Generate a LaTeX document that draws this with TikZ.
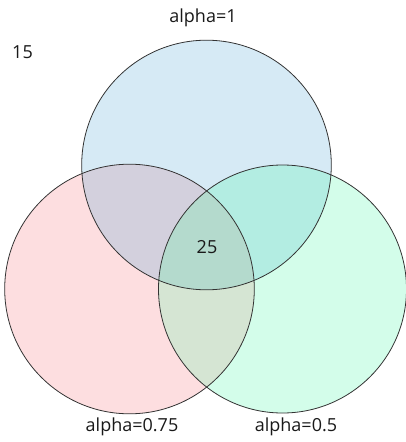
\documentclass[tikz,border=0pt]{standalone}
\usepackage{fontspec}
\setmainfont{Open Sans}
\definecolor{cblue}{HTML}{D6EAF5}
\definecolor{cpink}{HTML}{FDDEE0}
\definecolor{cgreen}{HTML}{D3FDEA}
\definecolor{cbp}{HTML}{D3D0DD}
\definecolor{cbg}{HTML}{B3EDE2}
\definecolor{cpg}{HTML}{D5E5D3}
\definecolor{cbpg}{HTML}{B4DACD}
\definecolor{edge}{HTML}{333333}
\begin{document}
\begin{tikzpicture}[x=1pt,y=-1pt,
  lbl/.style={font=\fontsize{18}{21}\selectfont, text=black!90, inner sep=0pt},
  ring/.style={draw=edge, line width=0.8pt}]
\useasboundingbox (0,0) rectangle (405,442);
\def\A{(206.5,165) circle (124.8)}
\def\B{(129.5,289) circle (124.8)}
\def\C{(282.5,289) circle (124)}
\fill[cblue] \A;
\fill[cpink] \B;
\fill[cgreen] \C;
\begin{scope}\clip \A; \fill[cbp] \B; \end{scope}
\begin{scope}\clip \A; \fill[cbg] \C; \end{scope}
\begin{scope}\clip \B; \fill[cpg] \C; \end{scope}
\begin{scope}\clip \A; \clip \B; \fill[cbpg] \C; \end{scope}
\draw[ring] \A;
\draw[ring] \B;
\draw[ring] \C;
\node[lbl] (la) at (203,18) {alpha=1};
\node[lbl] (lb) at (132,427) {alpha=0.75};
\node[lbl] (lc) at (296,427) {alpha=0.5};
\node[lbl] (n15) at (22.5,52) {15};
\node[lbl] (n25) at (207,247) {25};
\end{tikzpicture}
\end{document}
